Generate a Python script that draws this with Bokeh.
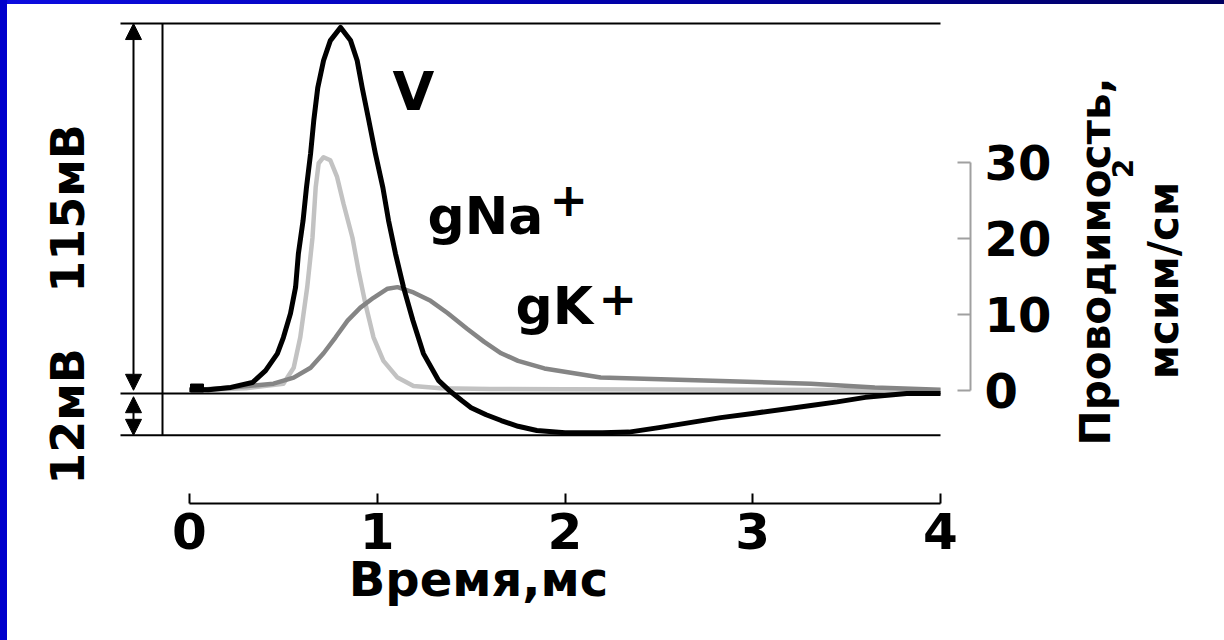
import math
from bokeh.plotting import figure
from bokeh.models import Range1d, LinearAxis, FixedTicker, Arrow, NormalHead, Label
from bokeh.embed import file_html
from bokeh.resources import INLINE

# ---------------- data ----------------
time_v_ms = [0.0, 0.1, 0.22, 0.335, 0.405, 0.468, 0.50, 0.538, 0.565, 0.58, 0.605,
             0.623, 0.645, 0.662, 0.683, 0.714, 0.75, 0.805, 0.858, 0.893, 0.92,
             0.955, 0.99, 1.03, 1.06, 1.097, 1.14, 1.19, 1.246, 1.326, 1.39,
             1.45, 1.5, 1.58, 1.66, 1.75, 1.85, 2.0, 2.2, 2.34, 2.5, 2.83, 3.0,
             3.31, 3.45, 3.6, 3.82, 4.0]
voltage_mv = [1.2, 1.2, 1.9, 3.4, 7.1, 12.4, 17.4, 24.9, 33.0, 43.5, 53.8,
              64.0, 74.6, 84.9, 95.0, 103.5, 109.7, 113.8, 109.7, 103.5, 95.0,
              84.9, 74.6, 64.0, 53.8, 43.5, 33.0, 22.7, 12.4, 4.1, 0.6,
              -2.2, -4.4, -6.6, -8.4, -10.2, -11.5, -12.2, -12.2, -12.0, -10.6, -7.5, -6.2,
              -3.7, -2.6, -1.2, 0.0, 0.0]

time_na_ms = [0.0, 0.3, 0.50, 0.555, 0.59, 0.627, 0.655, 0.672, 0.688, 0.714, 0.75,
              0.786, 0.82, 0.868, 0.90, 0.937, 0.98, 1.033, 1.108, 1.193, 1.337,
              1.6, 2.0, 3.0, 4.0]
g_na = [0.0, 0.3, 0.9, 3.0, 7.0, 13.6, 20.1, 26.7, 29.9, 30.7, 30.3,
        28.1, 24.6, 20.1, 15.8, 11.4, 7.0, 3.9, 1.7, 0.6, 0.3,
        0.2, 0.15, 0.1, 0.0]

time_k_ms = [0.0, 0.22, 0.447, 0.555, 0.645, 0.714, 0.778, 0.842, 0.91, 0.98, 1.055,
             1.108, 1.193, 1.284, 1.374, 1.48, 1.57, 1.66, 1.75, 1.89, 2.19, 2.74,
             3.31, 3.65, 4.0]
g_k = [0.0, 0.4, 0.9, 1.7, 3.0, 4.9, 7.0, 9.2, 10.9, 12.2, 13.4,
       13.6, 12.9, 11.8, 10.2, 8.1, 6.4, 4.9, 3.9, 2.9, 1.7, 1.3,
       0.9, 0.4, 0.1]

stimulus_ms = [0.04]
stimulus_mv = [1.7]

time_ticks = [0, 1, 2, 3, 4]
g_ticks = [0, 10, 20, 30]
spike_amp_mv = 115
undershoot_mv = 13

x_title = "Время,мс"
g_title = "Проводимость,"
g_units = "мсим/см"
g_units_sup = "2"
amp_label = "115мВ"
under_label = "12мВ"
curve_labels = ["V", "gNa", "gK"]

# ---------------- layout helpers (page pixels -> data) ----------------
W, H, OFF = 1224, 640, 0
X0, PXMS = 189.0, 187.75     # t=0 position, px per ms
V0, PXMV = 393.0, 3.217      # 0 mV position, px per mV
G0, PXG = 390.0, 7.6         # 0 conductance position, px per unit


def tx(px):
    return (px - X0) / PXMS


def vy(py):
    return (V0 - py) / PXMV


FONT = "DejaVu Sans"

p = figure(width=W, height=H, output_backend="svg", toolbar_location=None,
           x_axis_type=None, y_axis_type=None, min_border=0, title=None,
           x_range=Range1d(tx(OFF), tx(OFF + W)),
           y_range=Range1d(vy(OFF + H), vy(OFF)))
p.outline_line_color = None
p.background_fill_color = None
p.border_fill_color = None
p.extra_y_ranges = {"g": Range1d((G0 - OFF - H) / PXG, (G0 - OFF) / PXG)}

# frame lines
left_x = tx(120)
frame_x = tx(162)
arrow_x = tx(133)
end_t = time_ticks[-1]
levels = [spike_amp_mv, 0, -undershoot_mv]
p.segment(x0=[left_x] * 3, y0=levels, x1=[end_t] * 3, y1=levels,
          line_color="black", line_width=2)
p.segment(x0=[frame_x], y0=[-undershoot_mv], x1=[frame_x], y1=[spike_amp_mv],
          line_color="black", line_width=2)

# arrows
for y_s, y_e in [(1.0, spike_amp_mv), (-1.0, -undershoot_mv)]:
    p.add_layout(Arrow(x_start=arrow_x, y_start=y_s, x_end=arrow_x, y_end=y_e,
                       line_color="black", line_width=2,
                       start=NormalHead(size=16, fill_color="black", line_color="black"),
                       end=NormalHead(size=16, fill_color="black", line_color="black")))

# curves
p.line(time_na_ms, g_na, y_range_name="g", line_color="#c2c2c2", line_width=4.5,
       line_join="round")
p.line(time_k_ms, g_k, y_range_name="g", line_color="#858585", line_width=4.5,
       line_join="round")
p.line(time_v_ms, voltage_mv, line_color="black", line_width=5, line_join="round")
p.rect(x=stimulus_ms, y=stimulus_mv, width=13, height=8, width_units="screen",
       height_units="screen", fill_color="black", line_color="black")

# time axis
xa = LinearAxis(ticker=FixedTicker(ticks=time_ticks), bounds=(0, 4),
                fixed_location=vy(503))
xa.axis_line_color = "black"
xa.axis_line_width = 2
xa.major_tick_in = 10
xa.major_tick_out = 0
xa.major_tick_line_width = 2
xa.minor_tick_line_color = None
xa.major_label_text_font = FONT
xa.major_label_text_font_style = "bold"
xa.major_label_text_font_size = "50px"
xa.major_label_text_color = "black"
xa.major_label_standoff = 9
p.add_layout(xa, "below")

# conductance axis
ga = LinearAxis(y_range_name="g", ticker=FixedTicker(ticks=g_ticks), bounds=(0, 30),
                fixed_location=tx(970))
ga.axis_line_color = "#a0a0a0"
ga.axis_line_width = 2
ga.major_tick_in = 13
ga.major_tick_out = 0
ga.major_tick_line_color = "#a0a0a0"
ga.major_tick_line_width = 2
ga.minor_tick_line_color = None
ga.major_label_text_font = FONT
ga.major_label_text_font_style = "bold"
ga.major_label_text_font_size = "48px"
ga.major_label_text_color = "black"
ga.major_label_standoff = 14
p.add_layout(ga, "right")

BASE_SHIFT = 0.41  # anchor sits this many em above the drawn baseline


def lab(px, base_py, text, size, align="left"):
    """horizontal label; base_py = wanted glyph baseline (page px)"""
    p.add_layout(Label(x=tx(px), y=vy(base_py - BASE_SHIFT * size), text=text,
                       text_font=FONT, text_font_style="bold",
                       text_font_size=f"{size}px", text_color="black",
                       text_align=align, text_baseline="alphabetic"))


def vlab(base_px, cy, text, size):
    """label rotated to read upwards; base_px = wanted glyph baseline (page px)"""
    p.add_layout(Label(x=tx(base_px - BASE_SHIFT * size), y=vy(cy), text=text,
                       text_font=FONT, text_font_style="bold",
                       text_font_size=f"{size}px", text_color="black",
                       text_align="center", text_baseline="alphabetic",
                       angle=math.pi / 2))


lab(478, 598, x_title, 48, align="center")
lab(392, 113, curve_labels[0], 54)
lab(427, 237, curve_labels[1], 52)
lab(549, 217, "+", 46)
lab(515, 327, curve_labels[2], 52)
lab(598, 316, "+", 46)
vlab(86, 208, amp_label, 46)
vlab(86, 416, under_label, 46)
vlab(1112, 261, g_title, 42)
vlab(1180, 280, g_units, 42)
vlab(1133, 168, g_units_sup, 28)

TEMPLATE = """
{% block preamble %}
<style>
body {
  background:
    linear-gradient(to right, #0000cc 0px, #0000cc 7px, rgba(255,255,255,0) 7px) no-repeat,
    linear-gradient(to right, #0c0ce0 0%, #0000b0 45%, #000060 100%) top left / 100% 4px no-repeat,
    #ffffff;
}
</style>
{% endblock %}
"""

open("out.html", "w").write(file_html(p, INLINE, template=TEMPLATE))
